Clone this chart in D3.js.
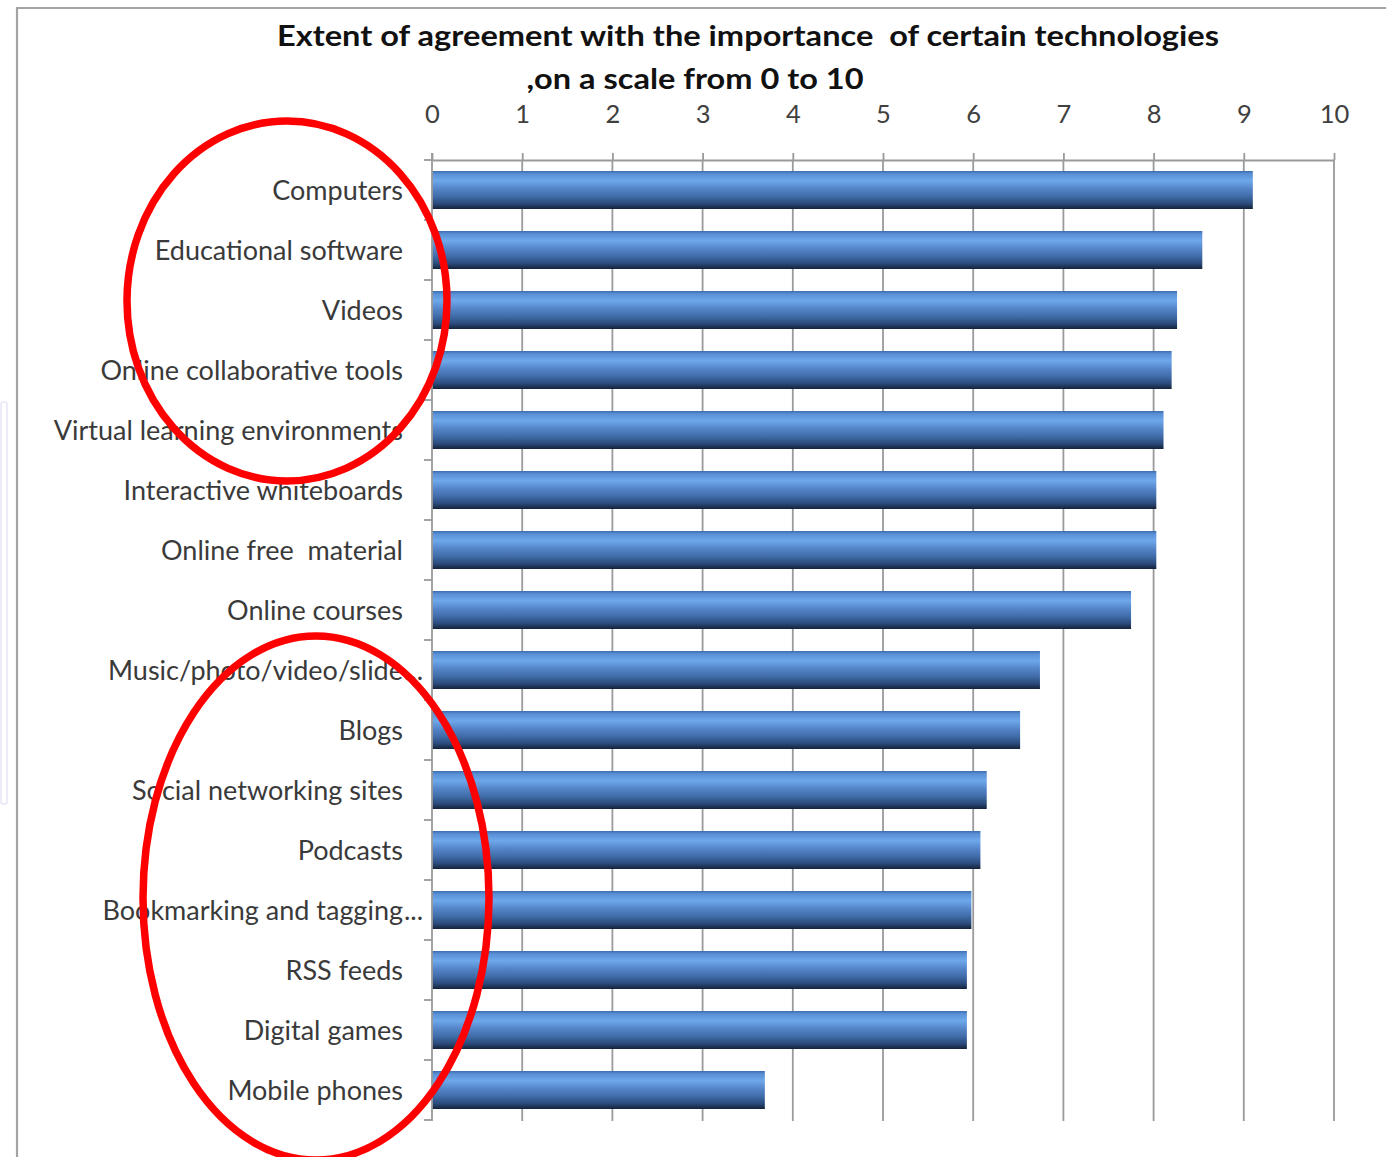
<!DOCTYPE html>
<html>
<head>
<meta charset="utf-8">
<script src="https://cdn.jsdelivr.net/npm/d3@7"></script>
<style>
  html, body { margin: 0; padding: 0; background: #fff; }
  svg { display: block; }
</style>
</head>
<body>
<svg id="chart" width="1386" height="1157"></svg>
<script>
const categories = [
  "Computers",
  "Educational software",
  "Videos",
  "Online collaborative tools",
  "Virtual learning environments",
  "Interactive whiteboards",
  "Online free  material",
  "Online courses",
  "Music/photo/video/slide...",
  "Blogs",
  "Social networking sites",
  "Podcasts",
  "Bookmarking and tagging...",
  "RSS feeds",
  "Digital games",
  "Mobile phones"
];
const values = [9.10, 8.54, 8.26, 8.20, 8.11, 8.03, 8.03, 7.75, 6.74, 6.52, 6.15, 6.08, 5.98, 5.93, 5.93, 3.69];
const tickValues = [0, 1, 2, 3, 4, 5, 6, 7, 8, 9, 10];
const titleLines = ["Extent of agreement with the importance  of certain technologies", ",on a scale from 0 to 10"];

const svg = d3.select("#chart");
const FONT = "Lato, 'Open Sans', sans-serif";

// outer frame (slide look)
svg.append("rect").attr("x", 1).attr("y", 402).attr("width", 6).attr("height", 402)
  .attr("fill", "none").attr("stroke", "#e6e6f6").attr("stroke-width", 1.5).attr("rx", 2);
svg.append("path").attr("d", "M17,1157 L17,8 L1386,8")
  .attr("fill", "none").attr("stroke", "#a3a3a3").attr("stroke-width", 2.2);

const x = d3.scaleLinear().domain([0, 10]).range([432, 1334]);
const pInner = 22 / 60;
const y = d3.scaleBand().domain(categories).range([160, 1120]).paddingInner(pInner).paddingOuter(pInner / 2);

// gradient
const defs = svg.append("defs");
const grad = defs.append("linearGradient").attr("id", "barGrad")
  .attr("x1", 0).attr("y1", 0).attr("x2", 0).attr("y2", 1);
[[0, "#3c6cae"], [0.08, "#5a90d6"], [0.26, "#6ea8ea"], [0.45, "#5687cb"],
 [0.68, "#3f6aa6"], [0.86, "#2a4a7a"], [1, "#142239"]]
  .forEach(([o, c]) => grad.append("stop").attr("offset", o).attr("stop-color", c));

// gridlines
svg.append("g").selectAll("line").data(tickValues.filter(d => d > 0)).join("line")
  .attr("x1", d => x(d)).attr("x2", d => x(d))
  .attr("y1", 160).attr("y2", 1121)
  .attr("stroke", "#9a9a9a").attr("stroke-width", 1.8);

// top axis
const topAxis = svg.append("g").attr("transform", "translate(0,160)")
  .call(d3.axisTop(x).tickValues(tickValues).tickSizeInner(7).tickSizeOuter(0).tickPadding(30));
topAxis.select(".domain").attr("stroke", "#9a9a9a").attr("stroke-width", 1.8);
topAxis.selectAll(".tick line").attr("stroke", "#9a9a9a").attr("stroke-width", 1.8);
topAxis.selectAll(".tick text").attr("font-family", FONT).attr("font-size", 25.5)
  .attr("fill", "#404040");

// bars
svg.append("g").selectAll("rect").data(categories).join("rect")
  .attr("x", x(0)).attr("y", d => y(d))
  .attr("width", (d, i) => x(values[i]) - x(0))
  .attr("height", y.bandwidth())
  .attr("fill", "url(#barGrad)");

// left axis
const step = y.step();
const boundaries = categories.map(c => y(c) - step * pInner / 2).concat([y.range()[1]]);
const left = svg.append("g");
left.append("line").attr("x1", x(0)).attr("x2", x(0)).attr("y1", 153).attr("y2", 1121)
  .attr("stroke", "#9a9a9a").attr("stroke-width", 1.8);
left.selectAll("line.tk").data(boundaries).join("line").attr("class", "tk")
  .attr("x1", x(0) - 8).attr("x2", x(0)).attr("y1", d => d).attr("y2", d => d)
  .attr("stroke", "#9a9a9a").attr("stroke-width", 1.8);
const lblX = x(0) - 29;
left.selectAll("text.lbl").data(categories).join("text").attr("class", "lbl")
  .attr("x", lblX).attr("y", d => y(d) + y.bandwidth() / 2 + 10)
  .attr("text-anchor", "end")
  .attr("font-family", FONT).attr("font-size", 27).attr("fill", "#3a3a3a")
  .style("white-space", "pre")
  .text(d => d.endsWith("...") ? d.slice(0, -3) : d);
left.selectAll("text.ell").data(categories.filter(d => d.endsWith("..."))).join("text").attr("class", "ell")
  .attr("x", lblX + 1).attr("y", d => y(d) + y.bandwidth() / 2 + 10)
  .attr("text-anchor", "start")
  .attr("font-family", FONT).attr("font-size", 27).attr("fill", "#3a3a3a")
  .text("...");

// title
svg.append("text").attr("x", 748).attr("y", 46).attr("text-anchor", "middle")
  .attr("font-family", FONT).attr("font-weight", "bold").attr("font-size", 29).attr("fill", "#111")
  .attr("textLength", 942).attr("lengthAdjust", "spacingAndGlyphs")
  .style("white-space", "pre")
  .text(titleLines[0]);
svg.append("text").attr("x", 695).attr("y", 89).attr("text-anchor", "middle")
  .attr("font-family", FONT).attr("font-weight", "bold").attr("font-size", 29).attr("fill", "#111")
  .attr("textLength", 337).attr("lengthAdjust", "spacingAndGlyphs")
  .text(titleLines[1]);

// red annotation ellipses
const ann = svg.append("g").attr("fill", "none").attr("stroke", "#ff0000").attr("stroke-width", 7.5);
ann.append("ellipse").attr("cx", 287).attr("cy", 301).attr("rx", 160).attr("ry", 180);
ann.append("ellipse").attr("cx", 316).attr("cy", 898).attr("rx", 173).attr("ry", 262);
</script>
</body>
</html>
